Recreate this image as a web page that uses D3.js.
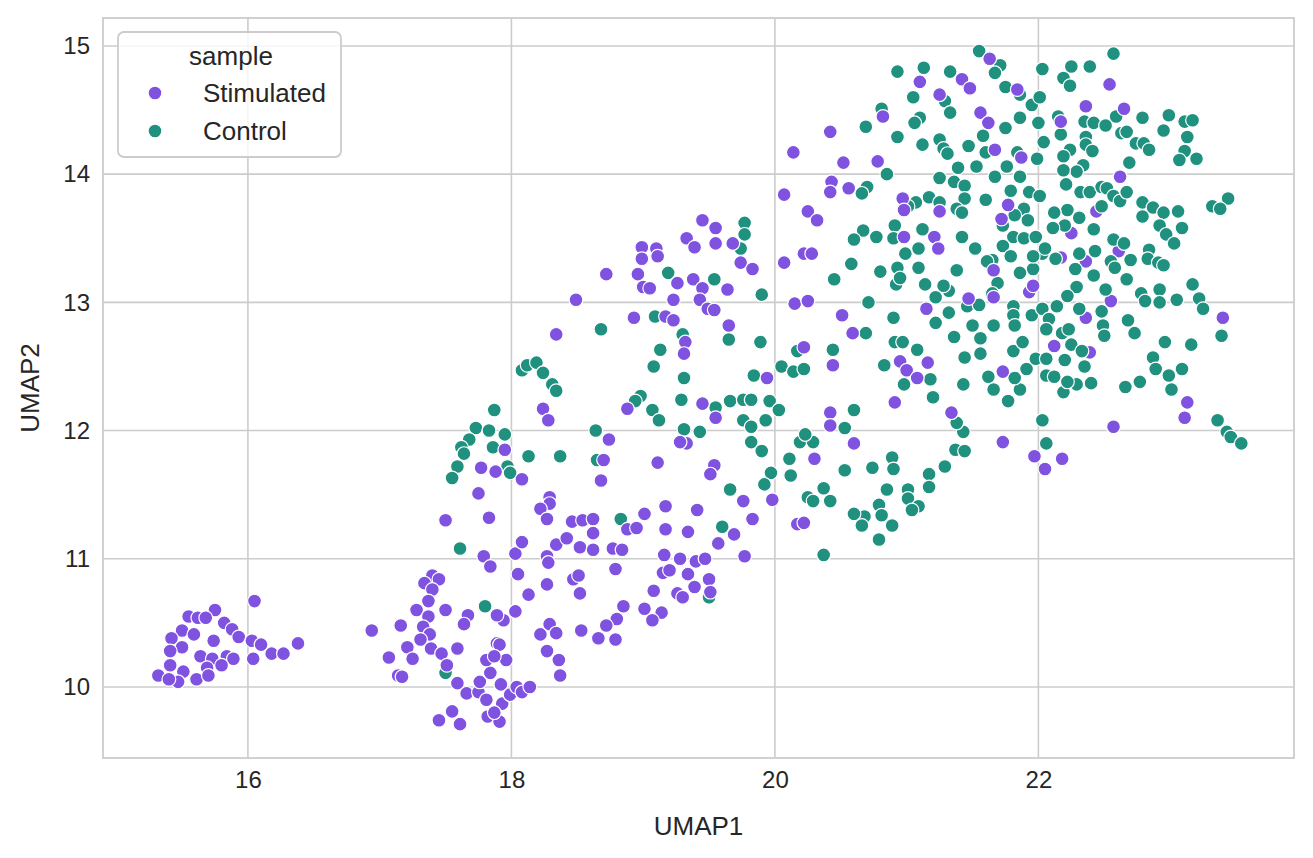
<!DOCTYPE html>
<meta charset="utf-8">
<script src="https://d3js.org/d3.v7.min.js"></script>
<style>
  body { margin: 0; background: #fff; }
  text { font-family: Arial, "Liberation Sans", sans-serif; fill: #262626; }
</style>
<div id="my_dataviz"></div>
<script>

// UMAP coordinates, [UMAP1, UMAP2]
var stimulated = [
  [16.05,10.67],[15.75,10.60],[15.55,10.55],[15.62,10.54],[15.68,10.54],[15.82,10.50],[15.50,10.44],[15.59,10.41],
  [15.88,10.45],[15.93,10.39],[15.42,10.38],[15.74,10.36],[16.03,10.36],[16.10,10.33],[15.50,10.31],[15.41,10.28],
  [15.64,10.24],[15.73,10.22],[15.84,10.24],[15.89,10.22],[16.04,10.22],[16.18,10.26],[16.27,10.26],[16.38,10.34],
  [15.41,10.17],[15.69,10.15],[15.80,10.17],[15.51,10.12],[15.32,10.09],[15.61,10.06],[15.70,10.09],[15.47,10.04],
  [15.40,10.06],[16.94,10.44],[17.16,10.48],[17.28,10.60],[17.21,10.31],[17.07,10.23],[17.25,10.22],[17.14,10.09],
  [17.17,10.08],
  [17.79,11.02],[17.84,10.94],[18.03,11.04],[18.08,11.13],[18.05,10.88],[18.27,11.02],[18.28,10.97],[18.34,11.11],
  [18.52,11.09],[18.62,11.07],[18.47,10.84],[18.51,10.87],[18.52,10.73],[18.27,10.80],[18.13,10.72],[18.03,10.59],
  [17.94,10.52],[17.89,10.56],[17.67,10.56],[17.64,10.49],[17.40,10.87],[17.34,10.81],[17.45,10.84],[17.40,10.76],
  [17.37,10.67],[17.37,10.55],[17.33,10.47],[17.50,10.60],[17.38,10.41],[17.31,10.37],[17.39,10.30],[17.47,10.26],
  [17.59,10.30],[17.51,10.17],[17.59,10.03],[17.66,9.95],[17.75,9.96],[17.76,10.04],[17.84,10.11],[17.81,10.21],
  [17.89,10.34],[17.91,10.33],[17.96,10.21],[17.87,10.24],[17.92,10.02],[17.81,9.90],[17.93,9.87],[17.99,9.94],
  [18.04,10.00],[18.08,9.96],[18.14,10.00],[17.82,9.77],[17.91,9.73],[17.87,9.80],[17.55,9.81],[17.45,9.74],
  [17.61,9.71],[18.22,10.41],[18.29,10.49],[18.34,10.42],[18.27,10.28],[18.36,10.21],[18.37,10.09],[18.53,10.44],
  [18.66,10.38],
  [18.24,12.17],[18.28,12.08],[17.95,11.85],[17.77,11.71],[17.88,11.68],[18.08,11.62],[17.75,11.51],[17.50,11.30],
  [17.83,11.32],[18.29,11.48],[18.29,11.43],[18.22,11.39],[18.27,11.31],[18.46,11.29],[18.54,11.30],[18.62,11.31],
  [18.62,11.20],[18.42,11.16],[18.77,11.08],[18.84,11.07],[18.88,11.23],[18.95,11.24],[19.01,11.35],[19.17,11.41],
  [19.17,11.23],[19.16,11.03],[18.74,11.93],[18.68,11.61],[18.70,11.77],[19.11,11.75],[18.88,12.17],
  [19.33,11.90],[19.28,11.91],[19.54,11.73],[19.51,11.66],[19.76,11.45],[19.83,11.31],[19.98,11.46],[20.30,11.78],
  [20.17,11.27],[20.22,11.28],[19.41,11.38],[19.34,11.21],[19.69,11.19],[19.57,11.12],[19.28,11.00],[19.40,10.98],
  [19.47,11.00],[19.77,11.02],[18.79,10.92],[19.15,10.89],[19.20,10.91],[19.34,10.88],[19.39,10.78],[19.50,10.84],
  [19.51,10.74],[19.08,10.75],[19.26,10.73],[19.30,10.70],[18.85,10.63],[18.80,10.53],[18.72,10.48],[19.01,10.61],
  [19.14,10.58],[19.07,10.52],[18.79,10.37],
  [20.25,13.71],[20.32,13.64],[20.22,13.38],[20.28,13.38],[20.07,13.31],[19.45,13.64],[19.55,13.58],[19.33,13.50],
  [19.39,13.43],[19.55,13.46],[19.68,13.46],[19.74,13.31],[19.83,13.26],[18.99,13.43],[19.10,13.42],[19.11,13.36],
  [18.99,13.34],[18.72,13.22],[18.96,13.22],[19.00,13.12],[19.05,13.11],[19.26,13.15],[19.38,13.18],[19.45,13.11],
  [19.64,13.10],[19.23,13.02],[19.43,13.02],[19.49,12.95],[19.54,12.94],[18.49,13.02],[18.93,12.88],[19.17,12.89],
  [19.23,12.86],[20.15,12.99],[20.25,13.01],[19.65,12.82],[19.32,12.69],[19.31,12.60],[20.22,12.65],[20.44,12.51],
  [19.94,12.41],[19.45,12.21],[19.55,12.10],[20.42,12.14],[20.42,12.04],[18.34,12.75],[20.14,14.17],[20.07,13.84],
  [20.59,12.76],[20.95,12.54],[21.00,12.47],[21.08,12.41],[21.16,12.53],[20.91,12.22],[20.60,11.90],[21.34,12.14],
  [21.73,12.46],[21.73,11.91],[21.97,11.80],
  [21.63,14.90],[21.10,14.72],[21.42,14.74],[21.48,14.67],[21.84,14.66],[21.25,14.62],[20.82,14.45],[20.42,14.33],
  [21.56,14.48],[21.62,14.40],[21.67,14.19],[21.87,14.13],[20.52,14.09],[20.78,14.10],[20.43,13.94],[20.42,13.86],
  [20.56,13.89],[20.97,13.81],[20.98,13.72],[21.25,13.71],[21.77,13.76],[21.72,13.65],[20.98,13.51],[21.21,13.51],
  [21.24,13.42],[21.66,13.25],[21.93,13.08],[21.96,13.13],[21.15,12.95],[21.47,13.03],[21.66,13.04],[20.51,12.90],
  [22.54,14.70],[22.36,14.53],[22.65,14.51],[22.17,14.41],[22.62,13.98],[22.44,13.71],[22.25,13.54],[22.61,13.40],
  [22.36,13.32],[22.17,13.35],[22.55,13.01],[22.36,12.88],[23.40,12.88],
  [22.12,12.66],[22.39,12.61],[23.13,12.22],[23.11,12.10],[22.57,12.03],[22.18,11.78],[22.05,11.70]
];

var control = [
  [17.61,11.08],[17.80,10.63],[17.50,10.11],
  [18.08,12.47],[18.12,12.51],[18.19,12.53],[18.24,12.45],[18.31,12.36],[18.34,12.31],[17.87,12.16],[17.73,12.02],
  [17.83,12.00],[17.95,11.97],[17.68,11.93],[17.62,11.87],[17.86,11.87],[17.64,11.82],[17.59,11.72],[17.55,11.63],
  [17.97,11.72],[17.99,11.67],[18.13,11.80],[18.37,11.80],[18.64,12.00],[18.65,11.77],[19.08,12.50],[18.98,12.27],
  [18.94,12.23],[19.07,12.16],[19.12,12.08],[18.83,11.31],
  [19.82,11.91],[19.90,11.84],[20.11,11.78],[20.12,11.65],[19.97,11.67],[19.92,11.58],[19.66,11.54],[20.19,11.91],
  [20.29,11.91],[20.25,11.48],[20.29,11.45],[20.37,11.55],[20.42,11.45],[19.60,11.25],[20.37,11.03],[19.50,10.70],
  [19.77,13.62],[19.77,13.53],[19.74,13.42],[19.19,13.23],[19.54,13.18],[19.90,13.06],[20.45,13.18],[19.09,12.89],
  [18.68,12.79],[19.30,12.75],[19.65,12.71],[19.89,12.69],[19.13,12.63],[19.31,12.41],[19.84,12.43],[20.05,12.50],
  [20.14,12.46],[20.22,12.48],[20.17,12.62],[20.44,12.63],[19.29,12.24],[19.55,12.18],[19.66,12.23],[19.76,12.24],
  [19.82,12.24],[19.96,12.23],[20.03,12.16],[19.76,12.08],[19.82,12.03],[19.93,12.08],[19.31,12.01],[19.43,11.99],
  [20.23,11.97],
  [20.69,12.76],[20.83,12.51],[20.91,12.69],[20.97,12.69],[21.08,12.63],[20.98,12.36],[21.18,12.40],[21.20,12.26],
  [21.36,12.73],[21.56,12.72],[21.56,12.60],[21.44,12.57],[21.43,12.36],[21.62,12.42],[21.66,12.32],[21.77,12.23],
  [21.86,12.32],[21.82,12.41],[21.81,12.62],[21.88,12.69],[21.91,12.48],[21.98,12.56],[20.60,12.16],[20.53,12.02],
  [20.53,11.69],[20.74,11.71],[20.89,11.79],[20.90,11.70],[20.85,11.54],[21.01,11.54],[21.01,11.47],[21.17,11.66],
  [21.17,11.56],[21.29,11.72],[21.37,11.85],[21.44,11.84],[21.43,11.99],[21.38,12.06],[21.09,11.41],[21.04,11.38],
  [20.79,11.42],[20.81,11.34],[20.68,11.33],[20.60,11.35],[20.66,11.26],[20.89,11.26],[20.79,11.15],
  [21.55,14.96],[21.71,14.85],[21.67,14.79],[22.03,14.82],[20.93,14.80],[21.13,14.83],[21.33,14.80],[21.05,14.60],
  [21.29,14.57],[21.33,14.48],[20.81,14.51],[21.75,14.68],[21.86,14.62],[21.95,14.54],[22.01,14.60],[21.10,14.44],
  [21.06,14.40],[20.69,14.37],[20.93,14.29],[21.12,14.23],[21.25,14.27],[21.28,14.20],[21.31,14.16],[21.47,14.22],
  [21.58,14.30],[21.60,14.17],[21.75,14.36],[21.86,14.44],[22.00,14.40],[22.04,14.25],[21.84,14.17],[21.99,14.12],
  [21.53,14.06],[21.39,14.05],[21.76,14.06],[21.67,13.98],[21.86,13.98],[20.85,14.00],[20.70,13.90],[20.66,13.85],
  [21.25,13.97],[21.36,13.94],[21.44,13.91],[21.44,13.81],[21.60,13.80],[21.79,13.87],[21.93,13.86],[22.01,13.83],
  [21.07,13.78],[21.01,13.75],[21.17,13.82],[21.25,13.78],[21.38,13.73],[21.42,13.70],[21.89,13.73],[21.92,13.64],
  [21.82,13.68],[20.91,13.60],[21.12,13.57],[20.67,13.56],[20.77,13.51],[20.60,13.49],[20.90,13.50],[21.09,13.42],
  [20.99,13.38],[21.42,13.51],[21.52,13.42],[21.73,13.60],[21.81,13.51],[21.73,13.44],[21.79,13.36],[21.89,13.50],
  [21.98,13.51],[22.03,13.38],[21.65,13.33],[21.61,13.32],[21.69,13.15],[21.65,13.07],[20.58,13.30],[20.80,13.24],
  [20.93,13.27],[20.92,13.14],[20.95,13.19],[21.09,13.27],[21.14,13.14],[21.38,13.25],[21.22,13.04],[21.32,13.09],
  [21.28,13.13],[20.71,13.00],[21.32,12.92],[21.22,12.84],[20.90,12.88],[21.46,12.97],[21.55,12.98],[21.50,12.82],
  [21.66,12.82],[21.81,12.97],[21.81,12.90],[21.82,12.82],[21.95,12.90],[22.03,12.95],[21.96,13.26],[21.86,13.23],
  [21.96,13.36],
  [22.57,14.94],[22.25,14.84],[22.19,14.75],[22.24,14.69],[22.39,14.84],[22.15,14.45],[22.17,14.31],[22.35,14.41],
  [22.42,14.40],[22.51,14.38],[22.59,14.45],[22.63,14.32],[22.67,14.33],[22.79,14.44],[22.99,14.46],[22.95,14.34],
  [23.11,14.41],[23.17,14.42],[23.13,14.29],[22.74,14.24],[22.80,14.24],[22.84,14.19],[23.11,14.18],[23.07,14.11],
  [23.20,14.12],[22.36,14.29],[22.36,14.23],[22.41,14.18],[22.24,14.19],[22.19,14.14],[22.34,14.07],[22.29,14.02],
  [22.19,14.03],[22.21,13.92],[22.69,14.09],[22.32,13.86],[22.39,13.86],[22.48,13.90],[22.52,13.89],[22.57,13.83],
  [22.62,13.79],[22.67,13.86],[22.48,13.75],[22.22,13.72],[22.12,13.70],[22.31,13.66],[22.20,13.60],[22.11,13.58],
  [22.42,13.57],[22.79,13.78],[22.87,13.74],[22.95,13.70],[23.06,13.71],[22.79,13.67],[22.92,13.60],[22.97,13.53],
  [23.03,13.46],[23.09,13.58],[23.32,13.75],[23.44,13.81],[23.38,13.73],[22.05,13.42],[22.13,13.34],[22.28,13.26],
  [22.31,13.38],[22.43,13.40],[22.42,13.21],[22.57,13.49],[22.65,13.46],[22.70,13.33],[22.55,13.32],[22.58,13.27],
  [22.67,13.18],[22.84,13.41],[22.83,13.34],[22.91,13.31],[22.95,13.29],[22.29,13.12],[22.51,13.10],[22.22,13.05],
  [22.14,12.97],[22.08,12.87],[22.31,12.95],[22.48,12.93],[22.49,12.82],[22.68,12.86],[22.73,12.76],[22.18,12.76],
  [22.78,13.07],[22.81,13.01],[22.92,13.10],[22.92,13.00],[23.05,13.02],[23.17,13.14],[23.22,13.03],[23.25,12.95],
  [23.39,12.74],[22.50,12.74],
  [22.06,12.79],[22.23,12.79],[22.25,12.67],[22.06,12.56],[22.20,12.55],[22.33,12.62],[22.35,12.50],[22.06,12.43],
  [22.12,12.42],[22.29,12.36],[22.40,12.37],[22.19,12.30],[22.22,12.38],[22.66,12.34],[22.77,12.38],[22.96,12.69],
  [23.16,12.67],[22.87,12.57],[22.89,12.48],[22.99,12.43],[23.09,12.48],[23.01,12.32],[22.03,12.08],[22.06,11.90],
  [23.36,12.08],[23.43,11.99],[23.46,11.95],[23.54,11.90]
];

var sampleNames = ["Stimulated", "Control"];
var sampleColors = ["#7f52e0", "#20917f"];
var xTicks = [16, 18, 20, 22];
var yTicks = [10, 11, 12, 13, 14, 15];

var margin = { top: 18, right: 19, bottom: 100, left: 103 },
    width = 1313 - margin.left - margin.right,
    height = 858 - margin.top - margin.bottom;

var x = d3.scaleLinear().domain([14.90, 23.94]).range([0, width]);
var y = d3.scaleLinear().domain([9.446, 15.218]).range([height, 0]);
var color = d3.scaleOrdinal().domain(sampleNames).range(sampleColors);

var svg = d3.select("#my_dataviz")
  .append("svg")
  .attr("width", 1313)
  .attr("height", 858)
  .append("g")
  .attr("transform", "translate(" + margin.left + "," + margin.top + ")");

// grid
svg.append("g").selectAll("line").data(xTicks).enter().append("line")
  .attr("x1", d => x(d)).attr("x2", d => x(d))
  .attr("y1", 0).attr("y2", height)
  .attr("stroke", "#cccccc").attr("stroke-width", 1.6);
svg.append("g").selectAll("line").data(yTicks).enter().append("line")
  .attr("y1", d => y(d)).attr("y2", d => y(d))
  .attr("x1", 0).attr("x2", width)
  .attr("stroke", "#cccccc").attr("stroke-width", 1.6);

// tick labels
var xAxis = svg.append("g")
  .attr("transform", "translate(0," + height + ")")
  .call(d3.axisBottom(x).tickValues(xTicks).tickSize(0).tickPadding(13).tickFormat(d3.format("d")));
var yAxis = svg.append("g")
  .call(d3.axisLeft(y).tickValues(yTicks).tickSize(0).tickPadding(13).tickFormat(d3.format("d")));
[xAxis, yAxis].forEach(function (a) {
  a.select(".domain").remove();
  a.selectAll("text").style("font-size", "24px").style("font-family", "Arial, 'Liberation Sans', sans-serif").attr("fill", "#262626");
});

// frame
svg.append("rect")
  .attr("width", width).attr("height", height)
  .attr("fill", "none").attr("stroke", "#cccccc").attr("stroke-width", 1.8);

// points, interleaved so neither group sits fully on top
var points = [];
var n = Math.max(stimulated.length, control.length);
for (var i = 0; i < n; i++) {
  if (i < stimulated.length) points.push({ x: stimulated[i][0], y: stimulated[i][1], s: "Stimulated" });
  if (i < control.length) points.push({ x: control[i][0], y: control[i][1], s: "Control" });
}

svg.append("g").selectAll("circle")
  .data(points)
  .enter()
  .append("circle")
  .attr("cx", d => x(d.x))
  .attr("cy", d => y(d.y))
  .attr("r", 6.9)
  .attr("fill", d => color(d.s))
  .attr("stroke", "#ffffff")
  .attr("stroke-width", 1.2);

// axis labels
svg.append("text")
  .attr("x", width / 2).attr("y", height + 77)
  .attr("text-anchor", "middle")
  .style("font-size", "26px")
  .text("UMAP1");
svg.append("text")
  .attr("transform", "translate(" + (-64) + "," + (height / 2) + ")rotate(-90)")
  .attr("text-anchor", "middle")
  .style("font-size", "26px")
  .text("UMAP2");

// legend
var legend = svg.append("g").attr("transform", "translate(15,14)");
legend.append("rect")
  .attr("width", 223).attr("height", 125).attr("rx", 6)
  .attr("fill", "#ffffff").attr("fill-opacity", 0.8)
  .attr("stroke", "#cccccc").attr("stroke-width", 1.8);
legend.append("text")
  .attr("x", 113).attr("y", 24)
  .attr("text-anchor", "middle").attr("dominant-baseline", "central")
  .style("font-size", "26px")
  .text("sample");
var items = legend.selectAll(".item").data(sampleNames).enter().append("g")
  .attr("transform", (d, i) => "translate(0," + (61 + i * 38) + ")");
items.append("circle")
  .attr("cx", 37).attr("cy", 0).attr("r", 6.9)
  .attr("fill", d => color(d))
  .attr("stroke", "#ffffff").attr("stroke-width", 1.2);
items.append("text")
  .attr("x", 85).attr("y", 0)
  .attr("dominant-baseline", "central")
  .style("font-size", "26px")
  .text(d => d);

</script>
